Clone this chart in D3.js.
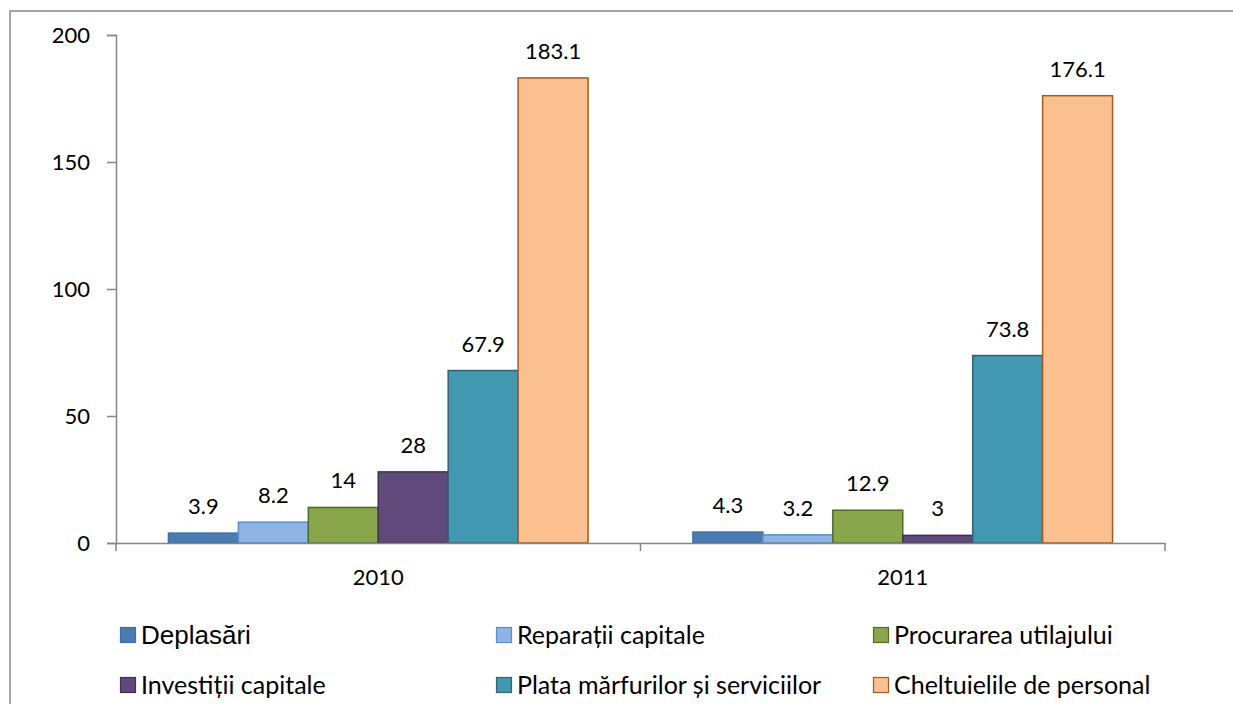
<!DOCTYPE html>
<html>
<head>
<meta charset="utf-8">
<script src="https://cdn.jsdelivr.net/npm/d3@7"></script>
<style>
  html, body { margin: 0; padding: 0; background: #fff; overflow: hidden; }
  svg { display: block; font-family: Lato, "Open Sans", sans-serif; }
</style>
</head>
<body>
<div id="chart"></div>
<script>
// data
const years = ["2010", "2011"];
const seriesNames = ["Deplasări", "Reparații capitale", "Procurarea utilajului",
  "Investiții capitale", "Plata mărfurilor și serviciilor", "Cheltuielile de personal"];
const values2010 = [3.9, 8.2, 14, 28, 67.9, 183.1];
const values2011 = [4.3, 3.2, 12.9, 3, 73.8, 176.1];
const yTicks = [0, 50, 100, 150, 200];

const fills = ["#4a7bb2", "#8eb4e3", "#8aa64b", "#604a7b", "#4298b0", "#fac090"];
const strokes = ["#3f6fa6", "#5b8dd0", "#506c2b", "#3f3152", "#2d6575", "#a35b1d"];

const W = 1233, H = 704;
const margin = { top: 35, left: 116, right: 68, bottom: 161 };
const plotW = W - margin.left - margin.right;
const plotH = H - margin.top - margin.bottom;

const svg = d3.select("#chart").append("svg")
    .attr("width", W)
    .attr("height", H);

// outer frame: only the left and top edges are in view
svg.append("path")
    .attr("d", "M10," + H + "V11H" + (W + 5))
    .attr("fill", "none")
    .attr("stroke", "#888")
    .attr("stroke-width", 1.5);

const g = svg.append("g")
    .attr("transform", "translate(" + margin.left + "," + margin.top + ")");

const x0 = d3.scaleBand().domain(years).range([0, plotW]);
// gap width 150% -> bars take 6/(6+1.5) of group
const innerPad = (x0.bandwidth() * 1.5 / 7.5) / 2;
const x1 = d3.scaleBand().domain(d3.range(seriesNames.length))
    .range([innerPad, x0.bandwidth() - innerPad]);

const y = d3.scaleLinear().domain([0, 200]).range([plotH, 0]);

// y axis
const yAxis = g.append("g")
    .call(d3.axisLeft(y).tickValues(yTicks).tickSize(9).tickPadding(17));
yAxis.select(".domain").attr("stroke", "#868686").attr("stroke-width", 1.5);
yAxis.selectAll(".tick line").attr("stroke", "#868686").attr("stroke-width", 1.5);
yAxis.selectAll(".tick text").attr("font-size", 22).attr("fill", "#000")
    .attr("font-family", "Lato, sans-serif");

const table = years.map((yr, i) => ({ year: yr, vals: i === 0 ? values2010 : values2011 }));

const groups = g.selectAll(".grp")
    .data(table)
    .enter().append("g")
    .attr("transform", d => "translate(" + x0(d.year) + ",0)");

groups.selectAll("rect")
    .data(d => d.vals.map((v, i) => ({ i: i, v: v })))
    .enter().append("rect")
    .attr("x", d => x1(d.i))
    .attr("y", d => y(d.v))
    .attr("width", x1.bandwidth())
    .attr("height", d => y(0) - y(d.v))
    .attr("fill", d => fills[d.i])
    .attr("stroke", d => strokes[d.i])
    .attr("stroke-width", 1.5);

groups.selectAll(".lbl")
    .data(d => d.vals.map((v, i) => ({ i: i, v: v })))
    .enter().append("text")
    .attr("class", "lbl")
    .attr("x", d => x1(d.i) + x1.bandwidth() / 2)
    .attr("y", d => y(d.v) - 19)
    .attr("text-anchor", "middle")
    .attr("font-size", 22)
    .text(d => d.v);

// x axis
const xAxis = g.append("g")
    .attr("transform", "translate(0," + plotH + ")")
    .call(d3.axisBottom(x0).tickSize(0).tickPadding(26));
xAxis.select(".domain").attr("stroke", "#868686").attr("stroke-width", 1.5);
xAxis.selectAll(".tick text").attr("font-size", 22).attr("fill", "#000")
    .attr("font-family", "Lato, sans-serif");
// category boundary ticks
g.append("g").selectAll("line")
    .data([0, plotW / 2, plotW])
    .enter().append("line")
    .attr("x1", d => d).attr("x2", d => d)
    .attr("y1", plotH).attr("y2", plotH + 8)
    .attr("stroke", "#868686").attr("stroke-width", 1.5);

// legend, 3 columns x 2 rows
const legX = [120, 496, 873];
const legY = [635, 685];
const legend = svg.append("g").selectAll("g")
    .data(seriesNames)
    .enter().append("g")
    .attr("transform", (d, i) => "translate(" + legX[i % 3] + "," + legY[Math.floor(i / 3)] + ")");

legend.append("rect")
    .attr("x", 0.5).attr("y", -7.5)
    .attr("width", 15).attr("height", 15)
    .attr("fill", (d, i) => fills[i])
    .attr("stroke", (d, i) => strokes[i])
    .attr("stroke-width", 1.2);

legend.append("text")
    .attr("x", 21)
    .attr("y", 0)
    .attr("dy", "0.35em")
    .attr("font-size", (d, i) => i === 0 ? 26 : 25)
    .attr("font-family", (d, i) => i === 0 ? "Liberation Sans, Arial, sans-serif" : "Lato, sans-serif")
    .text(d => d);
</script>
</body>
</html>
